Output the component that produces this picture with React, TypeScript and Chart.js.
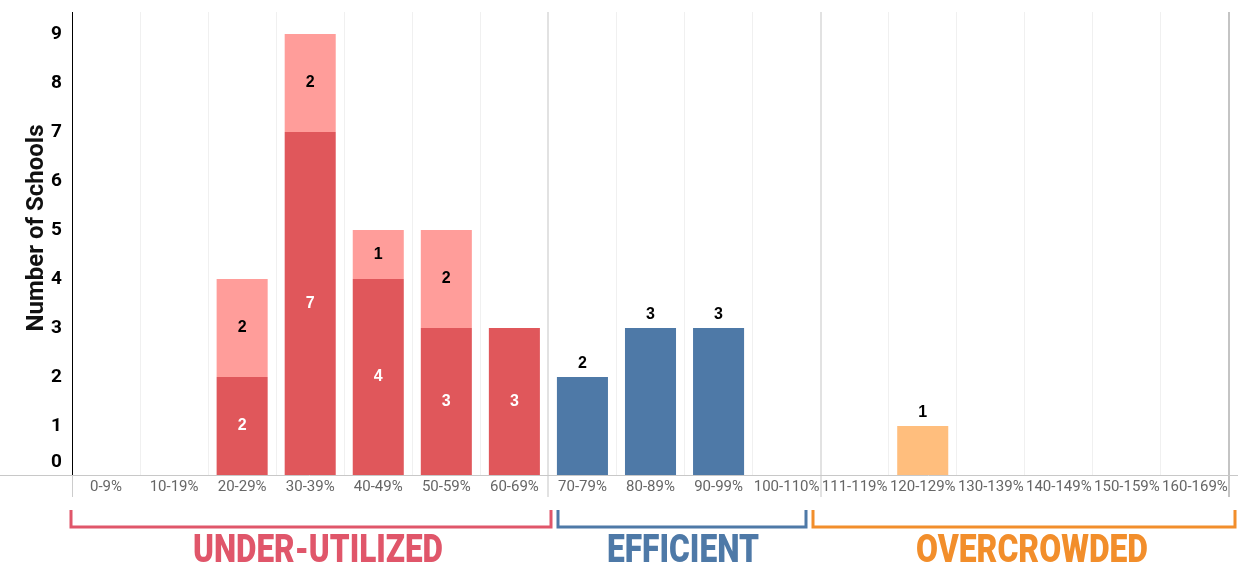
import React, { useEffect, useRef } from 'react';
import { Chart, registerables } from 'chart.js';

Chart.register(...registerables);

const CATEGORIES = [
  '0-9%', '10-19%', '20-29%', '30-39%', '40-49%', '50-59%', '60-69%',
  '70-79%', '80-89%', '90-99%', '100-110%',
  '111-119%', '120-129%', '130-139%', '140-149%', '150-159%', '160-169%',
];
const UNDER_MAIN = [0, 0, 2, 7, 4, 3, 3, 0, 0, 0, 0, 0, 0, 0, 0, 0, 0];
const UNDER_LIGHT = [0, 0, 2, 2, 1, 2, 0, 0, 0, 0, 0, 0, 0, 0, 0, 0, 0];
const EFFICIENT = [0, 0, 0, 0, 0, 0, 0, 2, 3, 3, 0, 0, 0, 0, 0, 0, 0];
const OVERCROWDED = [0, 0, 0, 0, 0, 0, 0, 0, 0, 0, 0, 0, 1, 0, 0, 0, 0];
const Y_TICKS = [0, 1, 2, 3, 4, 5, 6, 7, 8, 9];
const Y_MAX = 9.45;
const Y_TITLE = 'Number of Schools';

// group annotations (bracket + label) — layout only
const GROUPS = [
  { label: 'UNDER-UTILIZED', color: '#e0566a', x0: 71, x1: 551, cx: 318, w: 250 },
  { label: 'EFFICIENT', color: '#4e79a7', x0: 558, x1: 806, cx: 683, w: 152 },
  { label: 'OVERCROWDED', color: '#f28e2b', x0: 813, x1: 1235, cx: 1032, w: 232 },
];
const SEPARATOR_AFTER = [6, 10];

const W = 1238;
const H = 567;

const decorPlugin = {
  id: 'decor',
  beforeDatasetsDraw(chart: any) {
    const { ctx, chartArea } = chart;
    const x = chart.scales.x;
    ctx.save();
    ctx.strokeStyle = '#e2e2e2';
    ctx.lineWidth = 2;
    SEPARATOR_AFTER.forEach((i) => {
      const px = Math.round((x.getPixelForValue(i) + x.getPixelForValue(i + 1)) / 2);
      ctx.beginPath();
      ctx.moveTo(px, chartArea.top);
      ctx.lineTo(px, 497);
      ctx.stroke();
    });
    ctx.restore();
  },
  afterDraw(chart: any) {
    const { ctx, chartArea } = chart;
    ctx.save();
    ctx.strokeStyle = '#c4c4c4';
    ctx.lineWidth = 2;
    ctx.beginPath();
    ctx.moveTo(chartArea.right, chartArea.top);
    ctx.lineTo(chartArea.right, 497);
    ctx.stroke();
    ctx.strokeStyle = '#c8c8c8';
    ctx.lineWidth = 1;
    ctx.beginPath();
    ctx.moveTo(0, chartArea.bottom + 0.5);
    ctx.lineTo(W, chartArea.bottom + 0.5);
    ctx.stroke();
    ctx.strokeStyle = '#cccccc';
    ctx.beginPath();
    ctx.moveTo(chartArea.left + 0.5, chartArea.bottom);
    ctx.lineTo(chartArea.left + 0.5, 497);
    ctx.stroke();

    // y title
    ctx.save();
    ctx.translate(37, 228);
    ctx.rotate(-Math.PI / 2);
    ctx.fillStyle = '#111';
    ctx.font = 'bold 24px Roboto';
    ctx.textAlign = 'center';
    ctx.textBaseline = 'middle';
    ctx.fillText(Y_TITLE, 0, 0);
    ctx.restore();

    // value labels
    ctx.font = 'bold 16px "Liberation Sans", Arial, sans-serif';
    ctx.textAlign = 'center';
    ctx.textBaseline = 'middle';
    chart.data.datasets.forEach((ds: any, di: number) => {
      const meta = chart.getDatasetMeta(di);
      meta.data.forEach((bar: any, i: number) => {
        const v = ds.data[i];
        if (!v) return;
        if (di === 0) {
          ctx.fillStyle = '#ffffff';
          ctx.fillText(String(v), bar.x, (bar.y + bar.base) / 2);
        } else if (di === 1) {
          ctx.fillStyle = '#000000';
          ctx.fillText(String(v), bar.x, (bar.y + bar.base) / 2);
        } else {
          ctx.fillStyle = '#000000';
          ctx.fillText(String(v), bar.x, bar.y - 13);
        }
      });
    });

    // group brackets and labels
    GROUPS.forEach((g) => {
      ctx.strokeStyle = g.color;
      ctx.lineWidth = 3;
      ctx.beginPath();
      ctx.moveTo(g.x0, 510);
      ctx.lineTo(g.x0, 527);
      ctx.lineTo(g.x1, 527);
      ctx.lineTo(g.x1, 510);
      ctx.stroke();

      ctx.save();
      ctx.font = '900 38px Roboto';
      ctx.textAlign = 'center';
      ctx.textBaseline = 'alphabetic';
      const m = ctx.measureText(g.label).width;
      ctx.translate(g.cx, 562);
      ctx.scale(g.w / m, 1);
      ctx.fillStyle = g.color;
      ctx.fillText(g.label, 0, 0);
      ctx.restore();
    });
    ctx.restore();
  },
};

export default function App() {
  const ref = useRef<HTMLCanvasElement | null>(null);
  useEffect(() => {
    if (!ref.current) return;
    const chart = new Chart(ref.current, {
      type: 'bar',
      data: {
        labels: CATEGORIES,
        datasets: [
          { label: 'Under-utilized', data: UNDER_MAIN, backgroundColor: '#e0575b' },
          { label: 'Under-utilized (other)', data: UNDER_LIGHT, backgroundColor: '#ff9d9a' },
          { label: 'Efficient', data: EFFICIENT, backgroundColor: '#4e79a7' },
          { label: 'Overcrowded', data: OVERCROWDED, backgroundColor: '#ffbe7d' },
        ],
      },
      options: {
        responsive: false,
        animation: false,
        layout: { padding: { top: 12, right: 9, bottom: 62, left: 0 } },
        datasets: {
          bar: { categoryPercentage: 1, barPercentage: 0.75 },
        },
        plugins: {
          legend: { display: false },
          tooltip: { enabled: false },
        },
        scales: {
          x: {
            stacked: true,
            grid: { color: '#f0f0f0', offset: true, drawTicks: false },
            border: { display: false },
            ticks: {
              color: '#666666',
              font: { family: 'Roboto', size: 15 },
              padding: 3,
              maxRotation: 0,
              minRotation: 0,
              autoSkip: false,
            },
            afterFit: (s: any) => {
              s.height = 30;
              s.paddingLeft = 0;
              s.paddingRight = 0;
            },
          },
          y: {
            stacked: true,
            min: 0,
            max: Y_MAX,
            afterBuildTicks: (s: any) => {
              s.ticks = Y_TICKS.map((v) => ({ value: v }));
            },
            grid: { display: false, drawTicks: false },
            border: { display: true, color: '#000000', width: 1 },
            ticks: {
              color: '#000000',
              font: { family: 'Roboto', size: 19, weight: 'bold', lineHeight: 1.3 },
              padding: 10,
              autoSkip: false,
              callback: (v: any) => (v === 0 ? ['0', ''] : String(v)),
            },
            afterFit: (s: any) => {
              s.width = 72;
              s.paddingTop = 0;
              s.paddingBottom = 0;
            },
          },
        },
      },
      plugins: [decorPlugin],
    });
    return () => chart.destroy();
  }, []);
  return (
    <div style={{ position: 'absolute', left: 0, top: 0, width: W, height: H, background: '#fff' }}>
      <canvas ref={ref} width={W} height={H} />
    </div>
  );
}
